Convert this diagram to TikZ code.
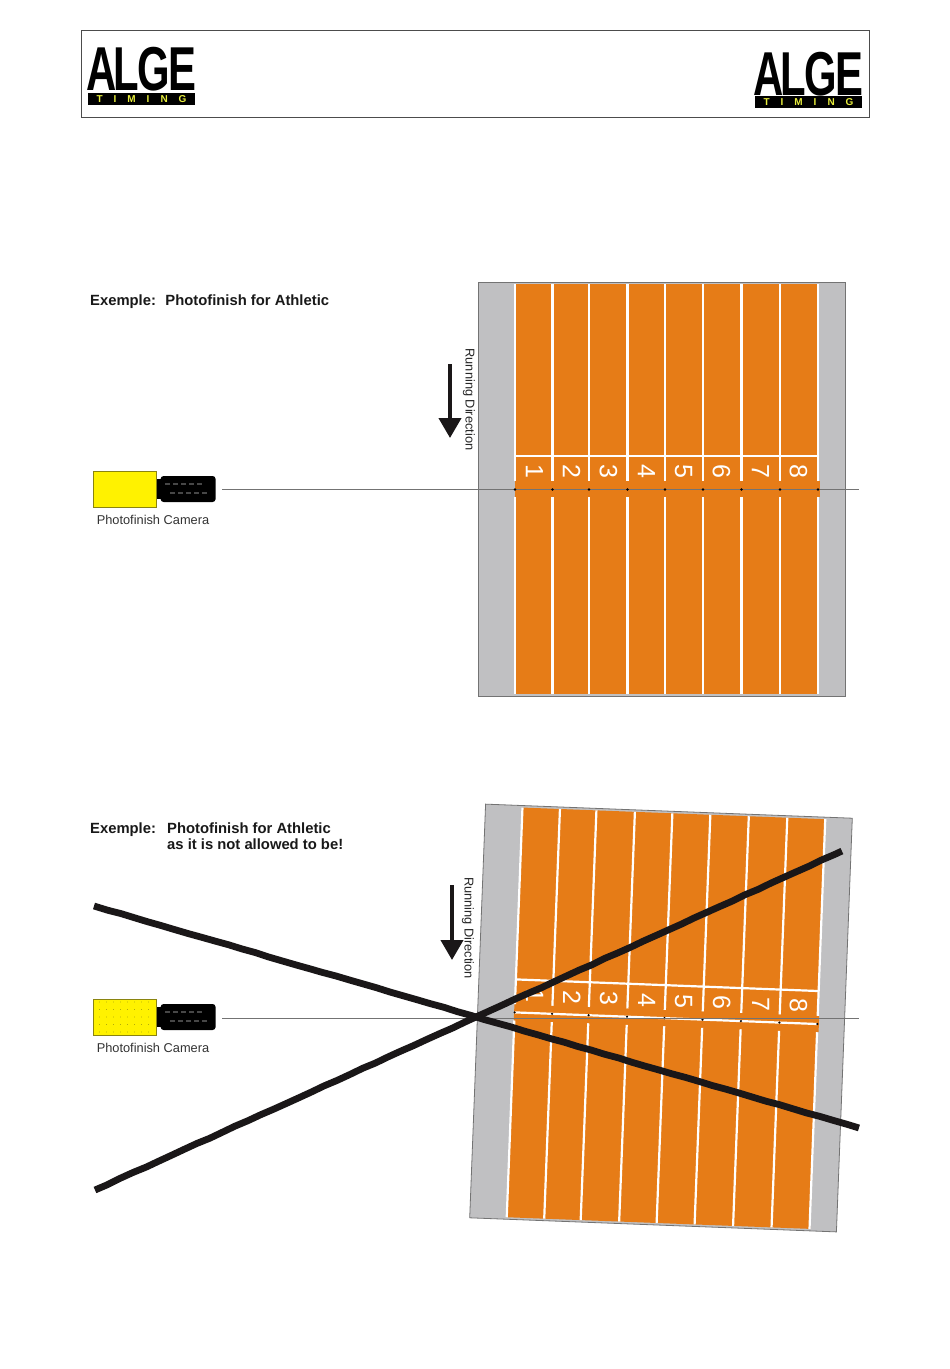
\documentclass[tikz,border=0pt]{standalone}
\usepackage{fontspec}
\setmainfont{Liberation Sans}
\usepackage{tikz}
\usetikzlibrary{arrows.meta,positioning,calc,decorations.pathmorphing}
\definecolor{trackorange}{HTML}{E67C17}
\definecolor{trackgray}{HTML}{C0C0C2}
\definecolor{timingyellow}{HTML}{E8EE3C}
\definecolor{camyellow}{HTML}{FFF200}
\definecolor{camedge}{HTML}{8A8410}
\definecolor{inkblack}{HTML}{1A1718}
\newcommand{\algeword}{A\kern-5pt L\kern-3pt G\kern-2pt E}
\newcommand{\timingword}{T\hspace{11pt}I\hspace{11pt}M\hspace{11pt}I\hspace{11pt}N\hspace{11pt}G}
% one track, drawn around the centre of the picture
\newcommand{\tracklanes}{%
  \draw[frameline, fill=trackgray] (-183.5,-207) rectangle (183.5,207);
  \fill[trackorange] (-146,-205) rectangle (157,205);
  \foreach \lanex in {-146.5,-109,-72.5,-34,3.5,41.5,80,118.5,156.5}
    \draw[laneline] (\lanex,-205) -- (\lanex,-8) (\lanex,8) -- (\lanex,205);
  \draw[laneline] (-146.5,-33) -- (156.5,-33);
  \fill[trackorange] (-147,-8) rectangle (158,8);
  \foreach \lanenum/\numx in {1/-127,2/-90,3/-53,4/-15,5/22,6/60,7/99,8/137}
    \node[lanenumber] (num\lanenum) at (\numx,-17.5) {\lanenum};
}
% barrel of the lens: a few light ribs on the black
\newcommand{\lensribs}[1]{%
  \draw[lensrib] ($(#1.west)+(5,-5)$) -- ($(#1.east)+(-12,-5)$);
  \draw[lensrib] ($(#1.west)+(10,4)$) -- ($(#1.east)+(-6,4)$);
}
\begin{document}
\begin{tikzpicture}[
  x=1pt, y=-1pt,
  frameline/.style={draw=black!55, line width=0.8pt},
  laneline/.style={draw=white, line width=2.2pt},
  lanenumber/.style={rotate=-90, text=white, font=\fontsize{25}{25}\selectfont, inner sep=0pt},
  logoword/.style={font=\fontsize{62}{62}\selectfont\bfseries, text=black, xscale=0.675, inner sep=0pt},
  logobar/.style={fill=black, minimum width=107pt, minimum height=12pt, inner sep=0pt,
                  text=timingyellow, font=\fontsize{10}{10}\selectfont\bfseries},
  camera/.style={draw=camedge, fill=camyellow, line width=0.8pt,
                 minimum width=63pt, minimum height=36pt, inner sep=0pt},
  lens/.style={fill=black, rounded corners=3pt, minimum width=55pt, minimum height=26pt, inner sep=0pt},
  lensneck/.style={fill=black, minimum width=6pt, minimum height=20pt, inner sep=0pt},
  lensrib/.style={draw=black!72, line width=1.4pt, dash pattern=on 5pt off 3pt},
  caption/.style={font=\fontsize{12.8}{12.8}\selectfont, text=black!80, inner sep=0pt},
  heading/.style={font=\fontsize{14.8}{16}\selectfont\bfseries, text=black!90, inner sep=0pt, align=left, anchor=north west},
  running/.style={rotate=-90, font=\fontsize{12.8}{12.8}\selectfont, text=black!85, inner sep=0pt},
  beam/.style={draw=black!55, line width=0.8pt},
  dirarrow/.style={draw=inkblack, line width=4pt, -{Triangle[length=20pt,width=22pt]}},
  crossbar/.style={draw=inkblack, line width=6.8pt, line join=round,
                   decorate, decoration={random steps, segment length=14pt, amplitude=0.3pt}},
]
\useasboundingbox (0,0) rectangle (950,1369);
\fill[white] (0,0) rectangle (950,1369);

% Header with the two logos
\node[draw=black!70, line width=0.9pt, minimum width=788pt, minimum height=87pt, inner sep=0pt] (header) at (475,73.5) {};
\node[logoword] (algeleft) at (141.5,69) {\algeword};
\node[logobar] (timingleft) at (141.5,99) {\timingword};
\node[logoword] (algeright) at (808.5,74) {\algeword};
\node[logobar] (timingright) at (808.5,102) {\timingword};

% Example 1: correct set-up
\node[heading] (headone) at (90,295) {Exemple:\hspace{4pt} Photofinish for Athletic};
\begin{scope}[shift={(661.5,489)}]
  \tracklanes
\end{scope}
\node[camera] (bodyone) at (124.5,489) {};
\node[lensneck, right=0pt of bodyone] (neckone) {};
\node[lens, right=0pt of bodyone, xshift=4pt] (lensone) {};
\lensribs{lensone}
\node[caption, below=8pt of bodyone.south, xshift=28.5pt] (capone) {Photofinish Camera};
\coordinate (beamstartone) at (222,489.5);
\coordinate (beamendone) at (859,489.5);
\draw[beam] (beamstartone) -- (beamendone);
\begin{scope}[shift={(661.5,489)}]
  \foreach \dotx in {-146.5,-109,-72.5,-34,3.5,41.5,80,118.5,156.5}
    \fill[black] (\dotx,0.5) circle (1.4pt);
\end{scope}
\coordinate (arrowtopone) at (450,364);
\coordinate (arrowtipone) at (450,438);
\draw[dirarrow] (arrowtopone) -- (arrowtipone);
\node[running] (runone) at (469,399.5) {Running Direction};

% Example 2: track at an angle, crossed out
\node[heading] (headtwoa) at (90,823) {Exemple:};
\node[heading] (headtwob) at (167,823) {Photofinish for Athletic\\as it is not allowed to be!};
\begin{scope}[shift={(661,1018)}, rotate=-2.2]
  \tracklanes
  \draw[laneline] (-146.5,0) -- (156.5,0);
  \foreach \dotx in {-146.5,-109,-72.5,-34,3.5,41.5,80,118.5,156.5}
    \fill[black] (\dotx,0) circle (1.2pt);
\end{scope}
\node[camera] (bodytwo) at (124.5,1017) {};
\foreach \dotrow in {-15,-7.5,0,7.5,15}
  \foreach \dotcol in {-25,-18,-11,-4,3,10,17,24}
    \fill[camedge] ($(bodytwo.center)+(\dotcol,\dotrow)$) circle (0.4pt);
\node[lensneck, right=0pt of bodytwo] (necktwo) {};
\node[lens, right=0pt of bodytwo, xshift=4pt] (lenstwo) {};
\lensribs{lenstwo}
\node[caption, below=8pt of bodytwo.south, xshift=28.5pt] (captwo) {Photofinish Camera};
\coordinate (beamstarttwo) at (222,1018);
\coordinate (beamendtwo) at (859,1018);
\draw[beam] (beamstarttwo) -- (beamendtwo);
\coordinate (arrowtoptwo) at (452,885);
\coordinate (arrowtiptwo) at (452,960);
\draw[dirarrow] (arrowtoptwo) -- (arrowtiptwo);
\node[running] (runtwo) at (468,928) {Running Direction};

% The two bars through the picture
\coordinate (barafrom) at (94,906);
\coordinate (barato) at (859,1128);
\coordinate (barbfrom) at (95,1190);
\coordinate (barbto) at (842,851);
\draw[crossbar] (barafrom) -- (barato);
\draw[crossbar] (barbfrom) -- (barbto);
\end{tikzpicture}
\end{document}
